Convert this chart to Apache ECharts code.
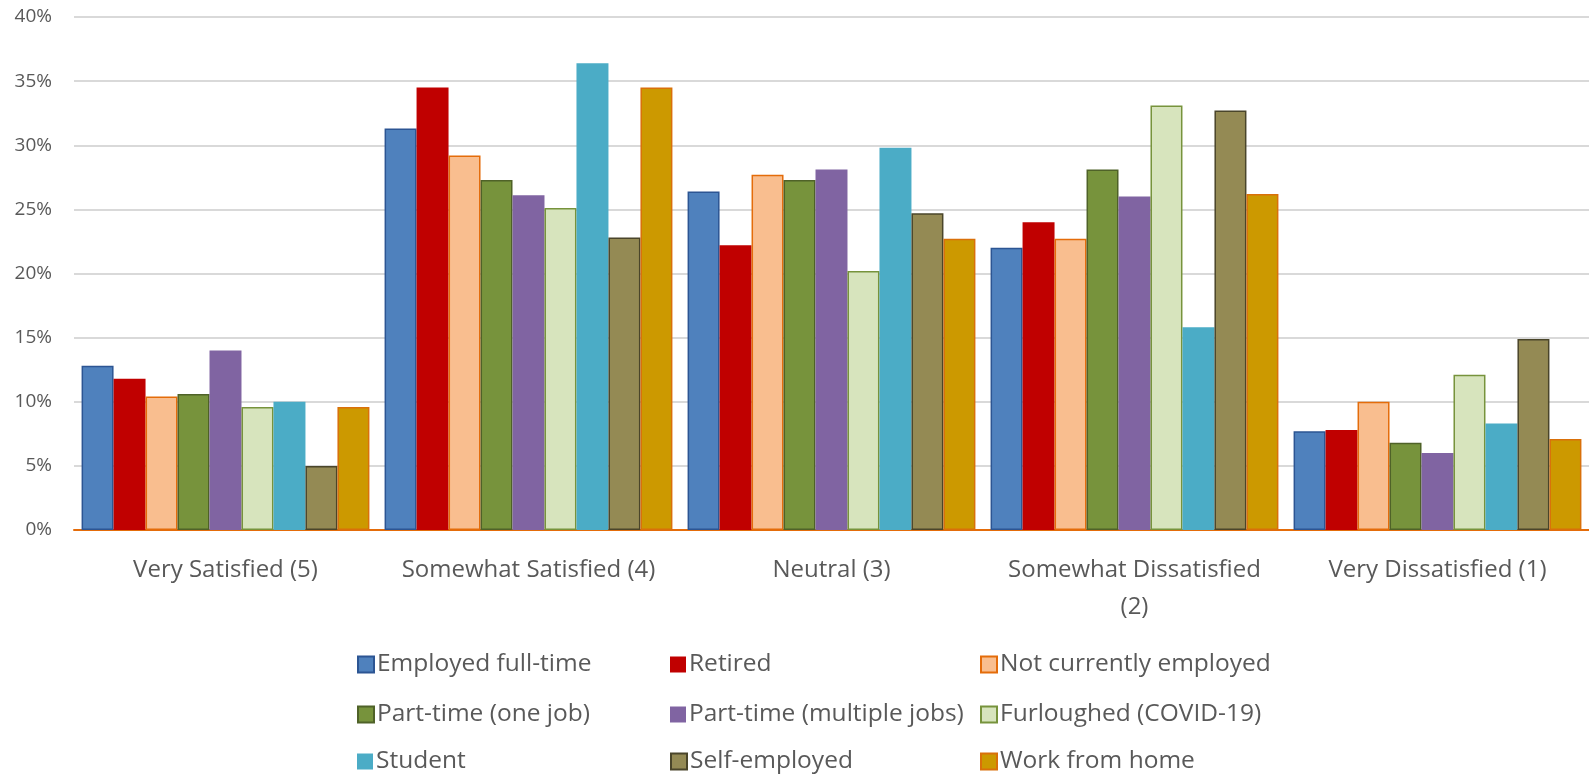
<!DOCTYPE html>
<html>
<head>
<meta charset="utf-8">
<script src="https://cdn.jsdelivr.net/npm/echarts@6/dist/echarts.min.js"></script>
<style>html,body{margin:0;padding:0;background:#fff}#c{width:1589px;height:777px}</style>
</head>
<body>
<div id="c"></div>
<script>
const categories = ["Very Satisfied (5)", "Somewhat Satisfied (4)", "Neutral (3)", "Somewhat Dissatisfied (2)", "Very Dissatisfied (1)"];
const seriesNames = ["Employed full-time", "Retired", "Not currently employed", "Part-time (one job)", "Part-time (multiple jobs)", "Furloughed (COVID-19)", "Student", "Self-employed", "Work from home"];
const employedFullTime = [12.8, 31.3, 26.4, 22.0, 7.7];
const retired = [11.8, 34.5, 22.2, 24.0, 7.8];
const notCurrentlyEmployed = [10.4, 29.2, 27.7, 22.7, 10.0];
const partTimeOneJob = [10.6, 27.3, 27.3, 28.1, 6.8];
const partTimeMultipleJobs = [14.0, 26.1, 28.1, 26.0, 6.0];
const furloughed = [9.6, 25.1, 20.2, 33.1, 12.1];
const student = [10.0, 36.4, 29.8, 15.8, 8.3];
const selfEmployed = [5.0, 22.8, 24.7, 32.7, 14.9];
const workFromHome = [9.6, 34.5, 22.7, 26.2, 7.1];
const yTicks = [0, 5, 10, 15, 20, 25, 30, 35, 40];

const values = [employedFullTime, retired, notCurrentlyEmployed, partTimeOneJob, partTimeMultipleJobs, furloughed, student, selfEmployed, workFromHome];
const fills = ["#4F81BD", "#C00000", "#F9BE8F", "#77933C", "#8064A2", "#D7E4BD", "#4BACC6", "#948A54", "#CC9900"];
const borders = ["#2C5593", null, "#E46C0A", "#4F6228", null, "#77933C", null, "#4A452A", "#D9700A"];

const font = "'Open Sans', sans-serif";
const chart = echarts.init(document.getElementById('c'), null, {renderer: 'canvas'});

const legendCols = [357, 670, 980];
const legendRows = [652, 702, 749];
const legends = seriesNames.map((n, i) => ({
  show: true,
  data: [n],
  left: legendCols[i % 3],
  top: legendRows[Math.floor(i / 3)],
  itemWidth: 16,
  itemHeight: 16,
  itemGap: 0,
  icon: 'rect',
  textStyle: {fontFamily: font, fontSize: 24.5, color: '#595959', padding: [0, 0, 0, -2]},
  padding: 0
}));

chart.setOption({
  animation: false,
  textStyle: {fontFamily: font},
  grid: {left: 74, right: 0, top: 17, bottom: 247, containLabel: false},
  legend: legends,
  xAxis: {
    type: 'category',
    data: categories,
    axisTick: {show: false},
    axisLine: {lineStyle: {color: '#E46C0A', width: 2}},
    axisLabel: {
      fontFamily: font, fontSize: 24, color: '#595959', margin: 22, lineHeight: 37, interval: 0,
      formatter: v => v.length > 22 ? v.replace(/ \(/, '\n(') : v
    }
  },
  yAxis: {
    type: 'value',
    min: yTicks[0], max: yTicks[yTicks.length - 1], interval: 5,
    axisLine: {show: false},
    axisTick: {show: false},
    splitLine: {lineStyle: {color: '#D9D9D9', width: 2}},
    axisLabel: {fontFamily: font, fontSize: 19, color: '#595959', margin: 22, formatter: v => v + '%'}
  },
  series: seriesNames.map((n, i) => ({
    name: n,
    type: 'bar',
    data: values[i],
    barGap: '0%',
    barCategoryGap: '5%',
    itemStyle: {
      color: fills[i],
      borderColor: borders[i] || fills[i],
      borderWidth: borders[i] ? 1.5 : 0
    }
  }))
});
</script>
</body>
</html>
